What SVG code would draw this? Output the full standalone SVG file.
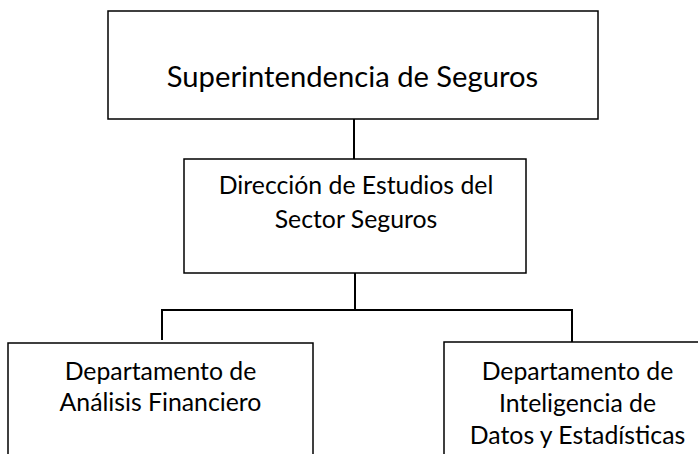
<svg xmlns="http://www.w3.org/2000/svg" width="698" height="454" viewBox="0 0 698 454">
<style>
.box{fill:#fff;stroke:#000;stroke-width:1.5}
.t{font-family:Lato,"Liberation Sans",sans-serif;fill:#000;text-anchor:middle}
.big{font-size:29.2px}
.sm{font-size:24.8px}
.con{fill:none;stroke:#000;stroke-width:2}
</style>
<rect width="698" height="454" fill="#fff"/>
<g id="connectors">
<line class="con" x1="354" y1="119" x2="354" y2="159"/>
<line class="con" x1="355" y1="273" x2="355" y2="310"/>
<polyline class="con" points="162,340 162,310 572,310 572,342"/>
</g>
<g id="n1">
<rect class="box" x="108" y="11" width="490" height="108"/>
<text class="t big" x="352.5" y="87">Superintendencia de Seguros</text>
</g>
<g id="n2">
<rect class="box" x="184" y="159" width="342" height="114"/>
<text class="t sm" x="356" y="194">Dirección de Estudios del</text>
<text class="t sm" x="356" y="228">Sector Seguros</text>
</g>
<g id="n3">
<rect class="box" x="8" y="343" width="305" height="130"/>
<text class="t sm" x="160.5" y="380">Departamento de</text>
<text class="t sm" x="160.5" y="411">Análisis Financiero</text>
</g>
<g id="n4">
<rect class="box" x="444" y="342" width="267" height="130"/>
<text class="t sm" x="577.5" y="380">Departamento de</text>
<text class="t sm" x="577.5" y="412">Inteligencia de</text>
<text class="t sm" x="577.5" y="444">Datos y Estadísticas</text>
</g>
</svg>
